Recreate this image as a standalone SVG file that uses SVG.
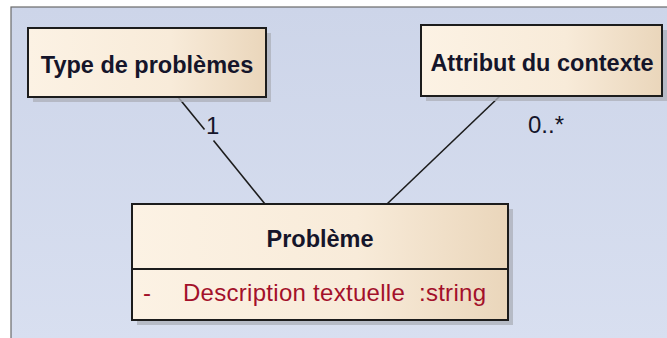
<svg xmlns="http://www.w3.org/2000/svg" width="667" height="338" viewBox="0 0 667 338">
<defs>
<linearGradient id="bg" x1="0" y1="0" x2="0" y2="1">
<stop offset="0" stop-color="#cdd5e9"/>
<stop offset="1" stop-color="#d8dff0"/>
</linearGradient>
<linearGradient id="fill" x1="0" y1="0" x2="1" y2="0">
<stop offset="0" stop-color="#fcf2e4"/>
<stop offset="0.6" stop-color="#f8ebd9"/>
<stop offset="1" stop-color="#ead6bb"/>
</linearGradient>
<style>
.shadow{fill:#aeb2bc;opacity:0.8}
.box{fill:url(#fill);stroke:#1c1c1c;stroke-width:2}
.title{font-family:"Liberation Sans",Arial,sans-serif;font-weight:bold;font-size:23.5px;fill:#15152a;text-anchor:middle}
.attr{font-family:"Liberation Sans",Arial,sans-serif;font-size:24px;fill:#a3102a}
.lbl{font-family:"Liberation Sans",Arial,sans-serif;font-size:24px;fill:#15152a}
.conn{stroke:#1c1c1c;stroke-width:1.6;fill:none}
</style>
</defs>
<rect x="0" y="0" width="667" height="338" fill="#ffffff"/>
<rect x="11" y="7" width="660" height="335" fill="url(#bg)" stroke="#6a6a6a" stroke-width="1.2"/>
<g id="connectors">
<line class="conn" x1="178" y1="97" x2="204.5" y2="129.5"/>
<line class="conn" x1="213.5" y1="140.5" x2="265" y2="204"/>
<line class="conn" x1="500" y1="96" x2="387" y2="204"/>
<text class="lbl" x="206" y="134">1</text>
<text class="lbl" x="528" y="133">0..*</text>
</g>
<g id="type-de-problemes">
<rect class="shadow" x="33" y="33" width="238" height="69"/>
<rect class="box" x="28" y="28" width="238" height="69"/>
<text class="title" x="147" y="73">Type de problèmes</text>
</g>
<g id="attribut-du-contexte">
<rect class="shadow" x="426" y="30" width="241" height="71"/>
<rect class="box" x="421" y="25" width="241" height="71"/>
<text class="title" x="542" y="71">Attribut du contexte</text>
</g>
<g id="probleme">
<rect class="shadow" x="137" y="209" width="376" height="116"/>
<rect class="box" x="132" y="204" width="376" height="116"/>
<line x1="132" y1="269" x2="508" y2="269" stroke="#1c1c1c" stroke-width="2"/>
<text class="title" x="320" y="247">Problème</text>
<text class="attr" x="143" y="301">-</text>
<text class="attr" x="183" y="301" xml:space="preserve" textLength="303" lengthAdjust="spacing">Description textuelle  :string</text>
</g>
</svg>
